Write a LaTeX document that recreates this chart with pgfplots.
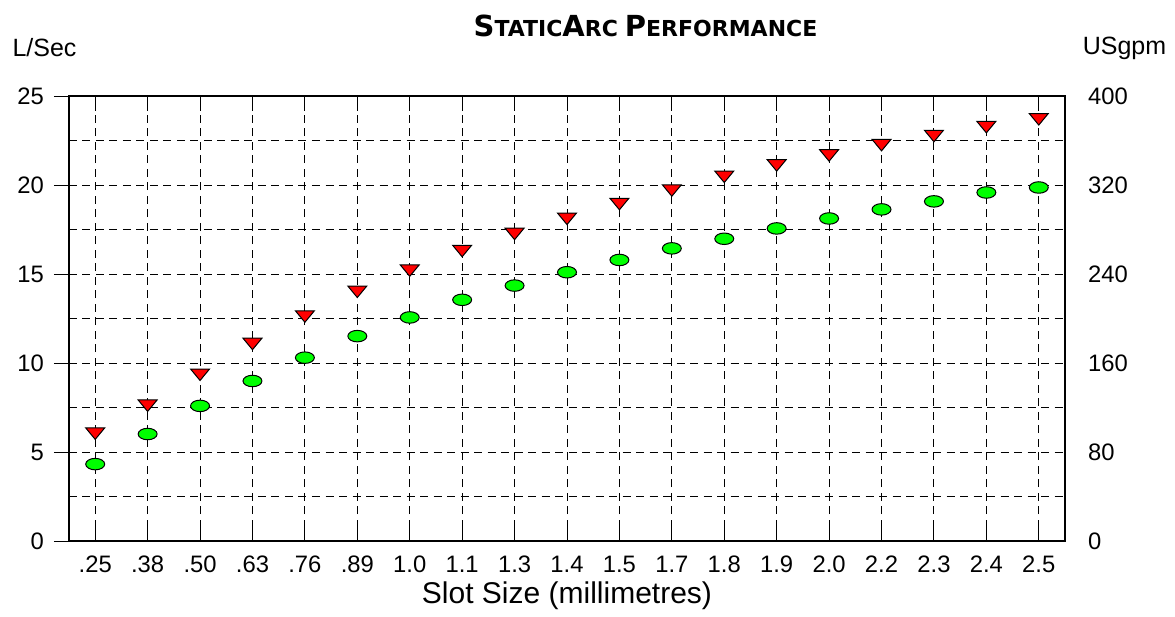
\documentclass[border=0pt]{standalone}
\usepackage{pgfplots}
\pgfplotsset{compat=1.18}
\usepackage{fontspec}
\setmainfont{Liberation Sans}
\newfontfamily\titlefont{DejaVu Sans}
\newcommand\tb[1]{{\fontsize{14.5}{15}\selectfont #1}}
\newcommand\ts[1]{{\fontsize{11}{12}\selectfont #1}}
\definecolor{mkred}{RGB}{255,0,0}
\definecolor{mkgreen}{RGB}{0,255,0}
\begin{document}
\begin{tikzpicture}
\useasboundingbox (-34.5pt,-38pt) rectangle (553pt,270.5pt);
\begin{axis}[
  at={(0,0)}, anchor=south west,
  scale only axis, width=498pt, height=222.5pt,
  xmin=-0.5, xmax=18.5, ymin=0, ymax=25,
  xtick={0,...,18},
  xticklabels={.25,.38,.50,.63,.76,.89,1.0,1.1,1.3,1.4,1.5,1.7,1.8,1.9,2.0,2.2,2.3,2.4,2.5},
  ytick={0,5,...,25},
  minor ytick={2.5,7.5,...,22.5},
  ytick pos=left,
  xtick pos=both,
  tick align=inside,
  major tick length=7.5pt,
  minor tick length=0pt,
  y tick style={xshift=-7.5pt},
  grid=both,
  major grid style={black, line width=0.5pt, dash pattern=on 4pt off 2.75pt},
  minor grid style={black, line width=0.5pt, dash pattern=on 4pt off 2.75pt},
  axis line style={line width=0.75pt},
  tick style={black, line width=0.5pt},
  /pgf/number format/assume math mode=true,
  ticklabel style={font=\fontsize{11.9}{13}\selectfont},
  yticklabel style={xshift=-9pt},
  xticklabel style={yshift=-4pt},
  xlabel={Slot Size (millimetres)},
  xlabel style={font=\fontsize{15}{16}\selectfont, yshift=2.5pt},
  clip=false,
]
\addplot[only marks, mark=*, mark size=2.875pt,
  mark options={xscale=1.65, fill=mkgreen, draw=black, line width=0.5pt}]
  coordinates {(0,4.32)(1,6.01)(2,7.59)(3,8.99)(4,10.30)(5,11.51)(6,12.56)(7,13.55)(8,14.35)(9,15.10)(10,15.79)(11,16.44)(12,16.98)(13,17.56)(14,18.12)(15,18.63)(16,19.08)(17,19.58)(18,19.86)};
\addplot[only marks, mark=triangle*, mark size=3.83pt,
  mark options={yshift=0.96pt, rotate=180, xscale=1.43, fill=mkred, draw=black, line width=0.5pt}]
  coordinates {(0,6.03)(1,7.60)(2,9.34)(3,11.07)(4,12.61)(5,14.00)(6,15.19)(7,16.29)(8,17.25)(9,18.10)(10,18.93)(11,19.69)(12,20.46)(13,21.10)(14,21.66)(15,22.24)(16,22.75)(17,23.25)(18,23.69)};
\end{axis}
\begin{axis}[
  at={(0,0)}, anchor=south west,
  scale only axis, width=498pt, height=222.5pt,
  xmin=-0.5, xmax=18.5, ymin=0, ymax=400,
  axis x line=none,
  axis y line*=right,
  ytick={0,80,...,400},
  major tick length=0pt,
  axis line style={line width=0.75pt},
  /pgf/number format/assume math mode=true,
  ticklabel style={font=\fontsize{11.9}{13}\selectfont},
  yticklabel style={xshift=8pt},
]
\addplot[draw=none] coordinates {(0,0)};
\end{axis}
\node[font=\fontsize{12.5}{14}\selectfont] at (-12.25pt,246.5pt) {L/Sec};
\node[font=\fontsize{12.5}{14}\selectfont] at (527.75pt,246.5pt) {USgpm};
\node[anchor=base, font=\titlefont\bfseries] at (288.25pt,252pt) {\tb{S}\ts{TATIC}\tb{A}\ts{RC} \tb{P}\ts{ERFORMANCE}};
\end{tikzpicture}
\end{document}
